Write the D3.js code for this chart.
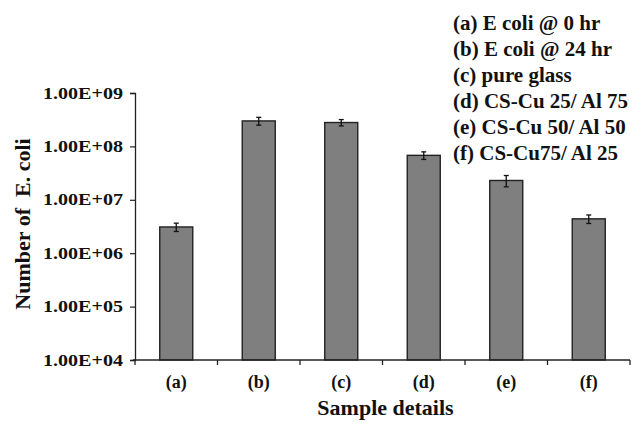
<!DOCTYPE html>
<html>
<head>
<meta charset="utf-8">
<script src="https://cdn.jsdelivr.net/npm/d3@7"></script>
<style>body { margin: 0; background: #fff; }</style>
</head>
<body>
<svg id="chart" width="644" height="424"></svg>
<script>
const categories = ['(a)', '(b)', '(c)', '(d)', '(e)', '(f)'];
const counts = [3.1e6, 3.0e8, 2.8e8, 6.8e7, 2.3e7, 4.4e6];
const errors = [0.55e6, 0.5e8, 0.38e8, 1.1e7, 0.55e7, 0.8e6];
const yTicks = [1e4, 1e5, 1e6, 1e7, 1e8, 1e9];
const legendLabels = [
  '(a) E coli @ 0 hr',
  '(b) E coli @ 24 hr',
  '(c) pure glass',
  '(d) CS-Cu 25/ Al 75',
  '(e) CS-Cu 50/ Al 50',
  '(f) CS-Cu75/ Al 25'
];

const serif = '"Liberation Serif"';
const svg = d3.select('#chart');
const plotL = 135, plotR = 630, plotT = 93, plotB = 360;

const x = d3.scaleBand().domain(categories).range([plotL, plotR]).paddingInner(0.6).paddingOuter(0.3);
const y = d3.scaleLog().domain([1e4, 1e9]).range([plotB, plotT]);

// bars
svg.append('g').selectAll('rect').data(categories).enter().append('rect')
  .attr('x', d => x(d))
  .attr('y', (d, i) => y(counts[i]))
  .attr('width', x.bandwidth())
  .attr('height', (d, i) => plotB - y(counts[i]))
  .attr('fill', '#7f7f7f').attr('stroke', '#222').attr('stroke-width', 1.4);

// error bars
const eb = svg.append('g').attr('stroke', '#111').attr('stroke-width', 1.3);
categories.forEach((c, i) => {
  const cx = x(c) + x.bandwidth() / 2;
  const y1 = y(counts[i] + errors[i]), y2 = y(counts[i] - errors[i]);
  eb.append('line').attr('x1', cx).attr('x2', cx).attr('y1', y1).attr('y2', y2);
  eb.append('line').attr('x1', cx - 2.5).attr('x2', cx + 2.5).attr('y1', y1).attr('y2', y1);
  eb.append('line').attr('x1', cx - 2.5).attr('x2', cx + 2.5).attr('y1', y2).attr('y2', y2);
});

// y axis
const yAxis = svg.append('g').attr('transform', `translate(${plotL},0)`)
  .call(d3.axisLeft(y).tickValues(yTicks).tickSize(5).tickPadding(7)
    .tickFormat(d => '1.00E+' + String(Math.round(Math.log10(d))).padStart(2, '0')));
yAxis.select('.domain').attr('stroke', '#222').attr('stroke-width', 1.3);
yAxis.selectAll('.tick line').attr('stroke', '#222').attr('stroke-width', 1.2);
yAxis.selectAll('.tick text').attr('font-size', 16).attr('font-weight', 'bold')
  .attr('font-family', serif).attr('fill', '#111')
  .attr('textLength', 80).attr('lengthAdjust', 'spacingAndGlyphs');

// x axis line and boundary ticks
const xg = svg.append('g').attr('stroke', '#222').attr('stroke-width', 1.3);
xg.append('line').attr('x1', plotL - 2).attr('x2', plotR).attr('y1', plotB).attr('y2', plotB);
d3.range(categories.length + 1).forEach(i => {
  const tx = plotL + i * x.step();
  xg.append('line').attr('x1', tx).attr('x2', tx).attr('y1', plotB).attr('y2', plotB + 5);
});

svg.append('g').selectAll('text').data(categories).enter().append('text')
  .attr('x', d => x(d) + x.bandwidth() / 2)
  .attr('y', plotB + 28)
  .attr('text-anchor', 'middle')
  .attr('font-family', serif).attr('fill', '#111')
  .attr('font-size', 18).attr('font-weight', 'bold')
  .text(d => d);

// axis titles
svg.append('text')
  .attr('x', (plotL + plotR) / 2 + 3).attr('y', 415)
  .attr('text-anchor', 'middle')
  .attr('font-family', serif).attr('fill', '#111')
  .attr('font-size', 22).attr('font-weight', 'bold')
  .text('Sample details');

svg.append('text')
  .attr('transform', 'translate(30,224) rotate(-90)')
  .attr('text-anchor', 'middle')
  .attr('font-family', serif).attr('fill', '#111')
  .attr('font-size', 22).attr('font-weight', 'bold')
  .style('white-space', 'pre')
  .text('Number of  E. coli');

// legend
svg.append('g').selectAll('text').data(legendLabels).enter().append('text')
  .attr('x', 453).attr('y', (d, i) => 30 + i * 26)
  .attr('font-family', serif).attr('fill', '#111')
  .attr('font-size', 21).attr('font-weight', 'bold')
  .text(d => d);
</script>
</body>
</html>
